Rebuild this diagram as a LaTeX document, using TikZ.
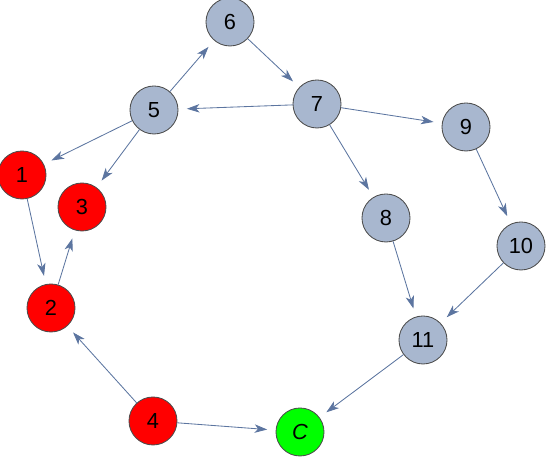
\documentclass[tikz,border=0pt]{standalone}
\usepackage{fontspec}
\setmainfont{Liberation Sans}
\usetikzlibrary{arrows.meta}
\definecolor{vertgray}{RGB}{168,183,207}
\definecolor{edgeblue}{RGB}{92,117,160}
\definecolor{vertred}{RGB}{255,0,0}
\definecolor{vertgreen}{RGB}{0,255,0}
\tikzset{
  vert/.style={circle, draw=black!70, line width=0.6pt, fill=vertgray,
    minimum size=1.2cm, inner sep=0pt, font=\fontsize{15.5}{17}\selectfont},
  redvert/.style={vert, fill=vertred},
  greenvert/.style={vert, fill=vertgreen},
  link/.style={draw=edgeblue, line width=0.6pt, shorten >=6pt,
    -{Stealth[length=9pt, width=6pt, inset=2.5pt]}}
}
\begin{document}
\begin{tikzpicture}[x=0.025cm, y=0.025cm]
  \useasboundingbox (0,0) rectangle (548,457);
  \node[vert] (n6) at (230,435) {6};
  \node[vert] (n5) at (154,347) {5};
  \node[vert] (n7) at (317,353) {7};
  \node[vert] (n9) at (466,330) {9};
  \node[redvert] (n1) at (22,282) {1};
  \node[redvert] (n3) at (82,250) {3};
  \node[vert] (n8) at (386,239) {8};
  \node[vert] (n10) at (521,211) {10};
  \node[redvert] (n2) at (51,149) {2};
  \node[vert] (n11) at (423,117) {11};
  \node[redvert] (n4) at (153,36) {4};
  \node[greenvert] (nC) at (300,25) {\textit{C}};
  % edges
  \foreach \a/\b in {n5/n6, n6/n7, n7/n5, n7/n9, n7/n8, n9/n10,
                     n5/n1, n5/n3, n1/n2, n2/n3, n4/n2, n4/nC,
                     n8/n11, n10/n11, n11/nC}
    \draw[link] (\a) -- (\b);
\end{tikzpicture}
\end{document}
